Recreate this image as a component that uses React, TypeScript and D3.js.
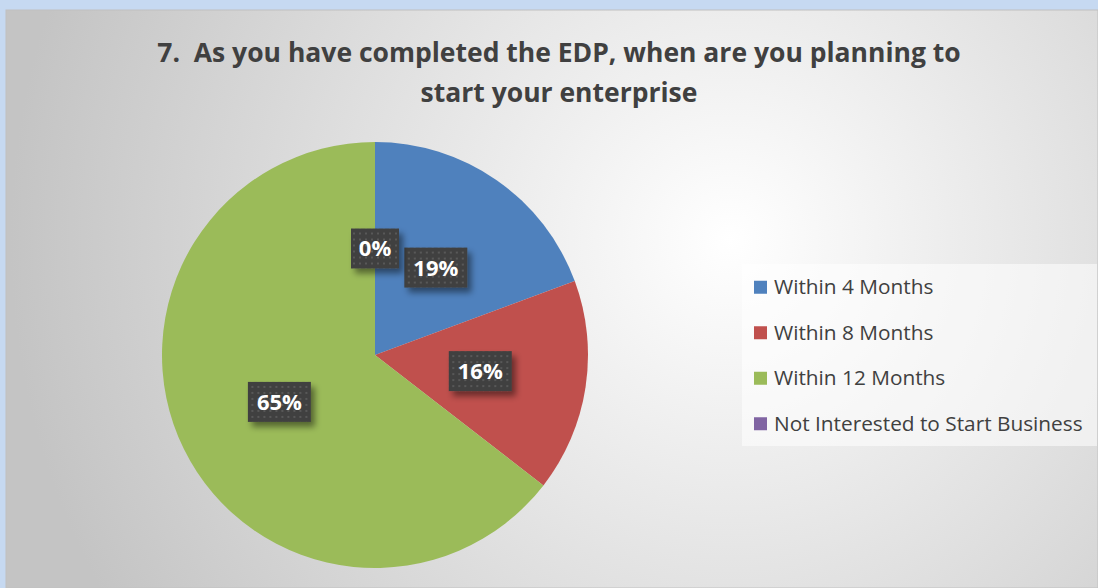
import React, { useRef, useEffect } from "react";
import * as d3 from "d3";

const categories = ["Within 4 Months", "Within 8 Months", "Within 12 Months", "Not Interested to Start Business"];
const counts = [24, 20, 80, 0];
const colors = ["#4f81bd", "#c0504d", "#9bbb59", "#8064a2"];
const titleLines = ["7.  As you have completed the EDP, when are you planning to", "start your enterprise"];

const W = 1098;
const H = 588;

const App = () => {
    const ref = useRef<SVGSVGElement | null>(null);

    useEffect(() => {
        document.body.style.margin = "0";
        const svg = d3.select(ref.current);
        svg.selectAll("*").remove();

        const defs = svg.append("defs");
        const bg = defs.append("radialGradient")
            .attr("id", "bg")
            .attr("gradientUnits", "userSpaceOnUse")
            .attr("cx", 730).attr("cy", 240).attr("r", 720);
        bg.append("stop").attr("offset", "0%").attr("stop-color", "#ffffff");
        bg.append("stop").attr("offset", "100%").attr("stop-color", "#c4c4c4");

        const dots = defs.append("pattern")
            .attr("id", "dots")
            .attr("patternUnits", "userSpaceOnUse")
            .attr("width", 6).attr("height", 6);
        dots.append("rect").attr("width", 6).attr("height", 6).attr("fill", "#404040");
        dots.append("rect").attr("x", 2).attr("y", 2).attr("width", 2).attr("height", 2).attr("fill", "#585858");

        const shadow = defs.append("filter").attr("id", "shadow")
            .attr("x", "-30%").attr("y", "-30%").attr("width", "170%").attr("height", "180%");
        shadow.append("feDropShadow")
            .attr("dx", 4).attr("dy", 5).attr("stdDeviation", 3)
            .attr("flood-color", "#000").attr("flood-opacity", 0.45);

        svg.append("rect").attr("width", W).attr("height", H).attr("fill", "#c6d9f1");
        svg.append("rect").attr("x", 6).attr("y", 10).attr("width", W - 6).attr("height", H - 10)
            .attr("fill", "url(#bg)").attr("stroke", "#c0c0c0").attr("stroke-width", 1);

        const title = svg.append("text")
            .attr("text-anchor", "middle")
            .attr("font-family", "Open Sans, sans-serif")
            .attr("font-weight", "bold")
            .attr("font-size", 26.5)
            .attr("fill", "#404040")
            .style("white-space", "pre");
        titleLines.forEach((t, i) => {
            title.append("tspan").attr("x", 559).attr("y", 62 + i * 40).text(t);
        });

        const cx = 375, cy = 355, radius = 213;
        const total = d3.sum(counts);
        const items = categories.map((name, i) => ({ name, value: counts[i], color: colors[i] }));
        type Item = typeof items[number];

        const pie = d3.pie<Item>().value((d) => d.value).sort(null);
        const arc = d3.arc<d3.PieArcDatum<Item>>().innerRadius(0).outerRadius(radius);
        const labelArc = d3.arc<d3.PieArcDatum<Item>>().innerRadius(radius * 0.5).outerRadius(radius * 0.5);

        const g = svg.append("g").attr("transform", `translate(${cx},${cy})`);
        const arcs = pie(items);

        g.selectAll("path.slice")
            .data(arcs.filter((d) => d.value > 0))
            .enter()
            .append("path")
            .attr("class", "slice")
            .attr("d", arc as any)
            .attr("fill", (d) => d.data.color);

        const lbl = g.selectAll("g.lbl")
            .data(arcs.filter((d) => d.data.name !== categories[3]).concat(arcs.filter((d) => d.data.name === categories[3])))
            .enter()
            .append("g")
            .attr("class", "lbl")
            .attr("transform", (d) => {
                const [x, y] = labelArc.centroid(d);
                return `translate(${x},${y})`;
            });

        lbl.each(function (d) {
            const sel = d3.select(this);
            const txt = `${Math.round((d.value / total) * 100)}%`;
            const w = txt.length * 15 + 18;
            sel.append("rect")
                .attr("x", -w / 2).attr("y", -20).attr("width", w).attr("height", 40)
                .attr("fill", "url(#dots)")
                .attr("filter", "url(#shadow)");
            sel.append("text")
                .attr("text-anchor", "middle")
                .attr("dy", "0.36em")
                .attr("font-family", "Open Sans, sans-serif")
                .attr("font-weight", "bold")
                .attr("font-size", 22)
                .attr("fill", "#ffffff")
                .text(txt);
        });

        const legend = svg.append("g").attr("transform", "translate(742,264)");
        legend.append("rect").attr("width", 355).attr("height", 182)
            .attr("fill", "#ffffff").attr("fill-opacity", 0.55);
        const ly = d3.scaleBand<string>().domain(categories).range([0, 182]);
        const row = legend.selectAll("g.row")
            .data(items)
            .enter()
            .append("g")
            .attr("class", "row")
            .attr("transform", (d) => `translate(0,${(ly(d.name) ?? 0) + ly.bandwidth() / 2})`);
        row.append("rect").attr("x", 12).attr("y", -6).attr("width", 13).attr("height", 13)
            .attr("fill", (d) => d.color);
        row.append("text")
            .attr("x", 32).attr("dy", "0.35em")
            .attr("font-family", "Open Sans, sans-serif")
            .attr("font-size", 20.8)
            .attr("fill", "#404040")
            .text((d) => d.name);
    }, []);

    return <svg ref={ref} width={W} height={H} style={{ display: "block" }} />;
};

export default App;
